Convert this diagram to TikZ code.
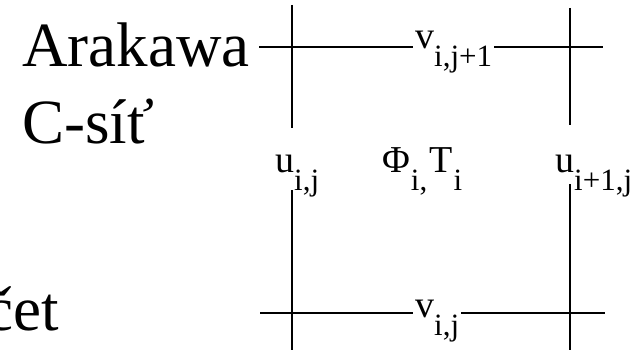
\documentclass[tikz,border=0pt]{standalone}
\usepackage{fontspec}
\setmainfont{Liberation Serif}
\usetikzlibrary{positioning}

% index lowered below the variable
\newcommand{\idx}[1]{\raisebox{-18pt}{\fontsize{31}{31}\selectfont #1}}

\begin{document}
\begin{tikzpicture}[
    x=1pt, y=-1pt,
    title/.style={font=\fontsize{63}{70}\selectfont, anchor=base west, inner sep=0pt},
    var/.style={font=\fontsize{38}{40}\selectfont, anchor=base west, inner sep=2pt},
    gridline/.style={draw=black, line width=1.6pt}
]
\useasboundingbox (0,0) rectangle (644,350);
\clip (0,0) rectangle (644,350);

% =========================================================================
% TEXT
% =========================================================================
\node[title] (arakawa) at (22, 67) {Arakawa};
\node[title] (csit)    at (22,143) {C-síť};
\node[title] (cet)     at (-15,330) {čet};

% =========================================================================
% VARIABLES IN THE CELL
% =========================================================================
\node[var] (vtop)   at (413, 49) {v\idx{i,j+1}};
\node[var] (vbot)   at (413,317) {v\idx{i,j}};
\node[var] (uleft)  at (273,172) {u\idx{i,j}};
\node[var] (phi)    at (380,172) {Φ\idx{\kern1pt i,\kern2pt}T\idx{\kern1pt i}};
\node[var] (uright) at (553,172) {u\idx{i+1,j}};

% =========================================================================
% GRID LINES
% =========================================================================
\coordinate (tl) at (259, 47);
\coordinate (tr) at (603, 47);
\coordinate (bl) at (260,313);
\coordinate (br) at (605,313);

\coordinate (lt)  at (292,  5);
\coordinate (lm1) at (292,128);
\coordinate (lm2) at (292,190);
\coordinate (lb)  at (292,350);

\coordinate (rt)  at (570,  8);
\coordinate (rm1) at (570,125);
\coordinate (rm2) at (570,184);
\coordinate (rb)  at (570,350);

\draw[gridline] (tl) -- (tl -| vtop.west);
\draw[gridline] (vtop.east |- tl) -- (tr);
\draw[gridline] (bl) -- (bl -| vbot.west);
\draw[gridline] (vbot.east |- bl) -- (br);

\draw[gridline] (lt) -- (lm1);
\draw[gridline] (lm2) -- (lb);
\draw[gridline] (rt) -- (rm1);
\draw[gridline] (rm2) -- (rb);

\end{tikzpicture}
\end{document}
